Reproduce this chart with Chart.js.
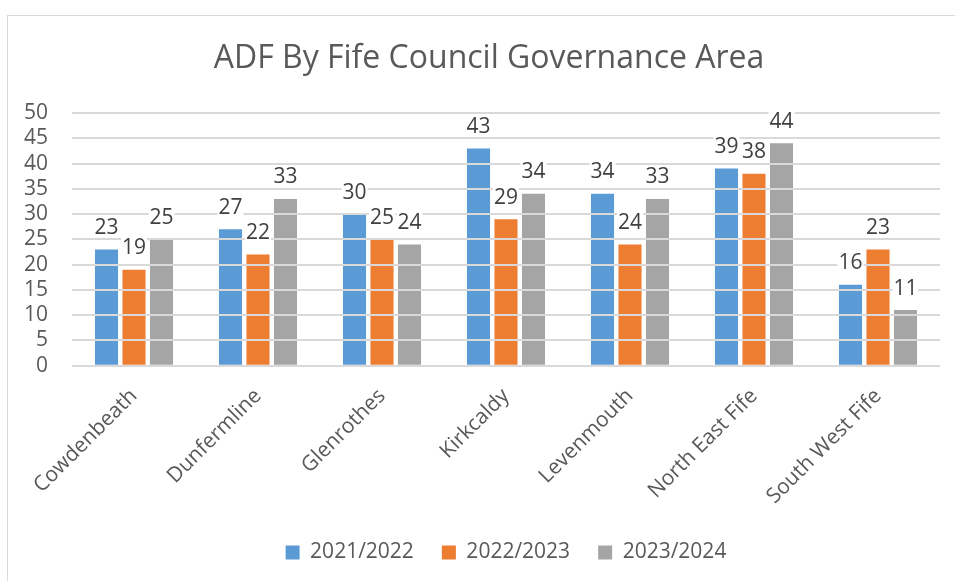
<!DOCTYPE html>
<html>
<head>
<meta charset="utf-8">
<script src="https://cdn.jsdelivr.net/npm/chart.js@4.4.0/dist/chart.umd.min.js"></script>
<style>
  html, body { margin: 0; padding: 0; background: #fff; }
  #wrap { position: relative; width: 955px; height: 581px; }
  #frame { position: absolute; left: 7px; top: 15px; width: 960px; height: 580px; border: 1px solid #d9d9d9; box-sizing: border-box; }
  canvas { position: absolute; left: 0; top: 0; }
</style>
</head>
<body>
<div id="wrap">
  <div id="frame"></div>
  <canvas id="adf-bar-chart" width="955" height="581"></canvas>
</div>
<script>
const chart_title = "ADF By Fife Council Governance Area"
const areas = ["Cowdenbeath", "Dunfermline", "Glenrothes", "Kirkcaldy", "Levenmouth", "North East Fife", "South West Fife"]
const adf_2021_22 = [23, 27, 30, 43, 34, 39, 16]
const adf_2022_23 = [19, 22, 25, 29, 24, 38, 23]
const adf_2023_24 = [25, 33, 24, 34, 33, 44, 11]
const series_labels = ["2021/2022", "2022/2023", "2023/2024"]

const font_family = "'Open Sans', sans-serif"

// numbers above each bar, drawn last so gridlines don't cross them
const barLabels = {
  id: "barLabels",
  afterDraw(chart) {
    const ctx = chart.ctx
    ctx.save()
    ctx.font = "21px " + font_family
    ctx.textAlign = "center"
    ctx.textBaseline = "bottom"
    chart.data.datasets.forEach((ds, i) => {
      chart.getDatasetMeta(i).data.forEach((bar, j) => {
        const txt = String(ds.data[j])
        const w = ctx.measureText(txt).width
        ctx.fillStyle = "#fff"
        ctx.fillRect(bar.x - w / 2 - 1, bar.y - 11 - 22, w + 2, 20)
        ctx.fillStyle = "#404040"
        ctx.fillText(txt, bar.x, bar.y - 11)
      })
    })
    ctx.restore()
  }
}

// title sits a bit right of canvas centre, like the excel frame
const frameTitle = {
  id: "frameTitle",
  afterDraw(chart) {
    const ctx = chart.ctx
    ctx.save()
    ctx.font = "32px " + font_family
    ctx.fillStyle = "#595959"
    ctx.textAlign = "center"
    ctx.textBaseline = "middle"
    ctx.fillText(chart_title, 489, 59)
    ctx.restore()
  }
}

const adf_ctx = document.getElementById("adf-bar-chart").getContext("2d")

new Chart(adf_ctx, {
  type: "bar",
  data: {
    labels: areas,
    datasets: [
      { label: series_labels[0], data: adf_2021_22, backgroundColor: "#5b9bd5" },
      { label: series_labels[1], data: adf_2022_23, backgroundColor: "#ed7d31" },
      { label: series_labels[2], data: adf_2023_24, backgroundColor: "#a5a5a5" }
    ]
  },
  options: {
    responsive: false,
    animation: false,
    categoryPercentage: 0.665,
    barPercentage: 0.84,
    layout: {
      padding: { left: 0, right: 15, top: 113, bottom: 8 }
    },
    plugins: {
      title: { display: false },
      legend: {
        position: "bottom",
        fullSize: false,
        labels: {
          color: "#595959",
          font: { family: font_family, size: 21 },
          boxWidth: 14,
          boxHeight: 14,
          padding: 28
        }
      },
      tooltip: { enabled: false }
    },
    scales: {
      x: {
        afterFit: (scale) => { scale.height -= 5 },
        grid: { display: false },
        border: { display: false },
        ticks: {
          color: "#595959",
          font: { family: font_family, size: 21 },
          minRotation: 45,
          maxRotation: 45,
          padding: 10
        }
      },
      y: {
        min: 0,
        max: 50,
        afterFit: (scale) => { scale.width = 72 },
        grid: { color: "#d9d9d9", lineWidth: 2, drawTicks: false, z: 1 },
        border: { display: false },
        ticks: {
          stepSize: 5,
          autoSkip: false,
          color: "#595959",
          font: { family: font_family, size: 21 },
          padding: 24
        }
      }
    }
  },
  plugins: [barLabels, frameTitle]
})
</script>
</body>
</html>
